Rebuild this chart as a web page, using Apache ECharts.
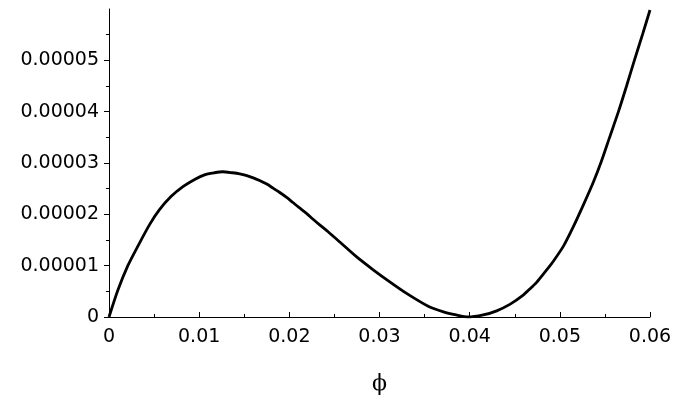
<!DOCTYPE html>
<html>
<head>
<meta charset="utf-8">
<script src="https://cdn.jsdelivr.net/npm/echarts@6/dist/echarts.min.js"></script>
<style>
html,body{margin:0;padding:0;background:#fff;}
#chart{width:678px;height:400px;}
</style>
</head>
<body>
<div id="chart"></div>
<script>
// phi values
var phi = [0, 0.00098, 0.00209, 0.0032, 0.0045, 0.0056, 0.0069, 0.0082, 0.0095, 0.0106,
  0.0117, 0.0126, 0.0137, 0.0145, 0.0152, 0.0160, 0.0167, 0.0175, 0.0182, 0.0189,
  0.0197, 0.0204, 0.0211, 0.0219, 0.0226, 0.0234, 0.0243, 0.0256, 0.0274, 0.0293,
  0.0311, 0.0330, 0.0354, 0.0371, 0.0385, 0.0398, 0.0415, 0.0430, 0.0445, 0.0459,
  0.0467, 0.0474, 0.0481, 0.0487, 0.0493, 0.0504, 0.0515, 0.0526, 0.0537, 0.0546,
  0.0555, 0.0565, 0.0574, 0.0583, 0.0592, 0.0600];
// potential values
var values = [0, 0.52e-5, 1.00e-5, 1.38e-5, 1.80e-5, 2.09e-5, 2.35e-5, 2.54e-5, 2.68e-5, 2.77e-5,
  2.81e-5, 2.83e-5, 2.81e-5, 2.79e-5, 2.76e-5, 2.71e-5, 2.66e-5, 2.59e-5, 2.51e-5, 2.43e-5,
  2.33e-5, 2.23e-5, 2.13e-5, 2.02e-5, 1.91e-5, 1.79e-5, 1.66e-5, 1.46e-5, 1.18e-5, 0.92e-5,
  0.69e-5, 0.46e-5, 0.21e-5, 0.10e-5, 0.04e-5, 0, 0.04e-5, 0.12e-5, 0.25e-5, 0.42e-5,
  0.55e-5, 0.67e-5, 0.82e-5, 0.95e-5, 1.09e-5, 1.38e-5, 1.76e-5, 2.18e-5, 2.62e-5, 3.03e-5,
  3.49e-5, 4.00e-5, 4.50e-5, 5.02e-5, 5.52e-5, 5.98e-5];
var xTicks = [0, 0.01, 0.02, 0.03, 0.04, 0.05, 0.06];
var yTicks = [0, 0.00001, 0.00002, 0.00003, 0.00004, 0.00005];
var xName = 'ϕ';

var data = phi.map(function (x, i) { return [x, values[i]]; });
var font = 'DejaVu Sans';
var chart = echarts.init(document.getElementById('chart'), null, {renderer: 'canvas'});
chart.setOption({
  animation: false,
  backgroundColor: '#ffffff',
  grid: {left: 109, right: 28, top: 9, bottom: 80, containLabel: false},
  xAxis: {
    type: 'value', min: 0, max: 0.06, interval: 0.01,
    name: xName, nameLocation: 'middle', nameGap: 56,
    nameTextStyle: {fontFamily: 'DejaVu Serif', fontSize: 22, color: '#000'},
    axisLine: {show: true, onZero: false, lineStyle: {color: '#000', width: 1}},
    axisTick: {show: true, inside: true, length: 5, lineStyle: {color: '#000'}},
    minorTick: {show: true, splitNumber: 2, length: 3, lineStyle: {color: '#000'}},
    splitLine: {show: false},
    axisLabel: {
      color: '#000', fontFamily: font, fontSize: 19, margin: 11,
      customValues: xTicks,
      formatter: function (v) { return v === 0 ? '0' : v.toFixed(2); }
    }
  },
  yAxis: {
    type: 'value', min: 0, max: 0.00006, interval: 0.00001,
    axisLine: {show: true, onZero: false, lineStyle: {color: '#000', width: 1}},
    axisTick: {show: true, inside: false, length: 5, customValues: yTicks, lineStyle: {color: '#000'}},
    minorTick: {show: true, splitNumber: 2, length: 3, lineStyle: {color: '#000'}},
    splitLine: {show: false},
    axisLabel: {
      color: '#000', fontFamily: font, fontSize: 19, margin: 10,
      customValues: yTicks,
      formatter: function (v) { return v === 0 ? '0' : v.toFixed(5); }
    }
  },
  series: [{
    type: 'line', data: data, showSymbol: false, smooth: 0.25,
    lineStyle: {color: '#000', width: 2.8}
  }]
});
</script>
</body>
</html>
